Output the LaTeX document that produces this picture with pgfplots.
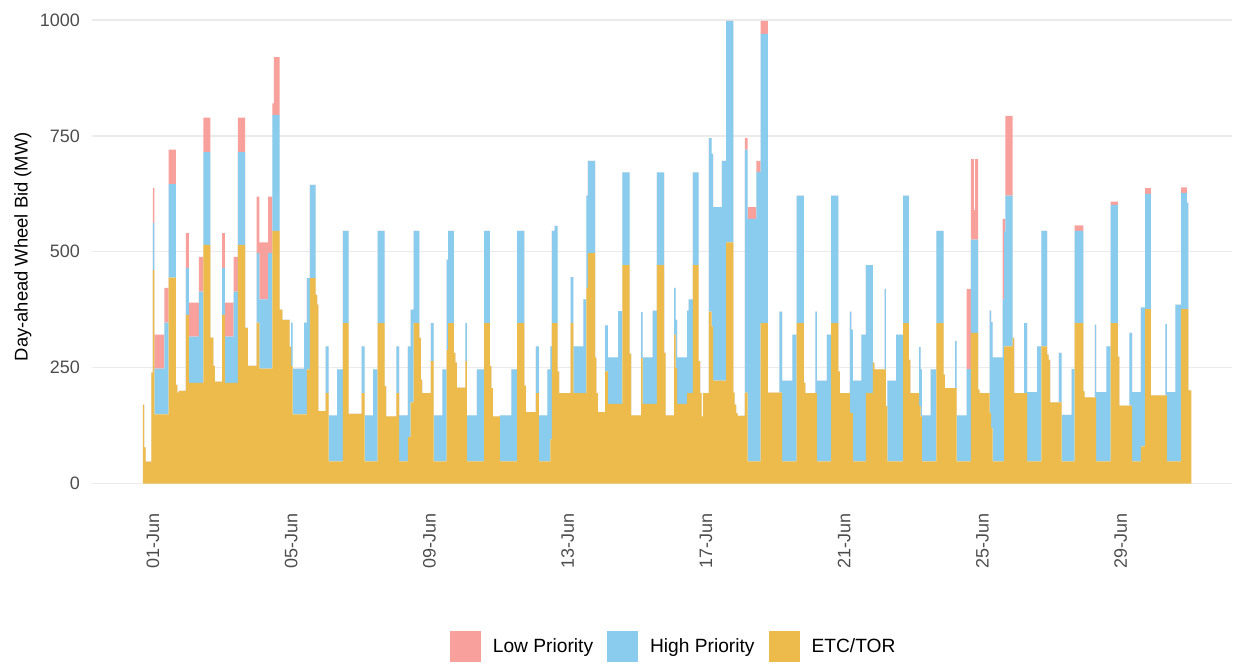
\documentclass[border=0pt]{standalone}
\usepackage{pgfplots}
\usepackage{pgfplotstable}
\pgfplotsset{compat=1.18}
\usepackage{fontspec}
\setmainfont{Liberation Sans}
\definecolor{lpc}{HTML}{F8A19C}
\definecolor{hpc}{HTML}{89CCEE}
\definecolor{etcc}{HTML}{EDBB4B}
\definecolor{tickgray}{HTML}{4D4D4D}
\definecolor{gridgray}{HTML}{EBEBEB}

% x = hour from 01-Jun 00:00, etc = ETC/TOR, hp = High Priority, lp = Low Priority (MW)
\pgfplotstableread{
x etc hp lp
-7 170 0 0
-6 78 0 0
-5 47 0 0
-1 239 0 0
0 461 101 76
1 149 99 73
8 149 198 75
11 444 202 74
16 213 0 0
17 196 0 0
18 200 0 0
23 364 101 75
25 217 100 73
32 217 197 75
35 515 200 74
40 315 0 0
42 254 0 0
43 220 0 0
48 364 101 75
50 217 100 73
56 217 197 75
59 515 200 74
64 336 0 0
66 254 0 0
72 347 150 122
74 248 149 123
80 248 249 122
83 545 250 25
84 545 250 125
88 375 0 0
90 353 0 0
95 295 0 0
96 254 93 0
97 149 99 0
105 149 198 0
107 246 197 0
109 443 201 0
113 407 0 0
114 386 0 0
115 156 0 0
120 195 101 0
122 48 99 0
128 48 198 0
132 346 199 0
136 150 0 0
145 195 101 0
147 48 99 0
153 48 198 0
156 346 199 0
161 210 0 0
162 145 0 0
169 195 101 0
171 48 99 0
177 100 196 0
179 175 200 0
181 346 199 0
185 314 0 0
186 224 0 0
187 195 0 0
193 264 82 0
195 48 99 0
201 48 198 0
204 288 195 0
205 346 199 0
209 282 0 0
210 261 0 0
211 207 0 0
217 264 82 0
218 48 99 0
225 48 198 0
230 346 199 0
234 253 0 0
235 206 0 0
236 145 0 0
241 48 99 0
249 48 198 0
253 346 199 0
258 211 0 0
259 154 0 0
266 195 101 0
268 48 99 0
274 48 198 0
276 95 201 0
277 346 199 0
279 346 210 0
281 242 0 0
282 195 0 0
290 346 99 0
292 195 101 0
299 195 202 0
301 422 199 0
302 497 199 0
307 271 0 0
308 195 0 0
309 154 0 0
314 242 99 0
316 172 100 0
323 172 200 0
326 471 200 0
331 280 0 0
332 147 0 0
339 271 99 0
340 172 100 0
347 172 201 0
350 471 200 0
355 282 0 0
356 147 0 0
362 321 101 0
363 249 104 0
364 172 100 0
371 195 178 0
372 195 202 0
375 471 200 0
379 264 0 0
380 195 0 0
381 145 0 0
382 195 0 0
386 371 374 0
388 339 372 0
389 222 374 0
395 222 474 0
398 520 478 0
403 196 0 0
404 170 0 0
405 152 0 0
406 146 0 0
411 196 524 25
413 48 523 25
419 48 624 24
422 346 624 28
427 196 0 0
435 196 175 0
437 48 174 0
444 48 273 0
447 346 275 0
452 217 0 0
453 195 0 0
460 195 176 0
461 48 174 0
468 48 273 0
471 346 275 0
476 242 0 0
477 195 0 0
484 152 219 0
485 152 180 0
486 48 174 0
492 48 273 0
495 195 276 0
500 261 0 0
501 246 0 0
508 246 174 0
509 167 0 0
510 48 174 0
516 48 273 0
521 346 275 0
525 267 0 0
526 195 0 0
532 167 127 0
533 145 101 0
534 48 99 0
540 48 198 0
544 346 199 0
549 235 0 0
550 206 0 0
557 206 101 0
558 48 99 0
565 48 199 173
568 325 201 174
570 325 201 64
571 325 201 174
573 202 0 0
574 195 0 0
581 152 221 0
582 120 228 0
583 48 224 0
590 48 349 174
591 296 248 27
592 296 325 172
597 314 0 0
598 195 0 0
605 195 151 0
607 48 149 0
614 48 248 0
617 296 249 0
621 278 0 0
622 267 0 0
623 175 0 0
629 175 107 0
631 48 100 0
638 48 199 0
640 346 199 12
646 199 0 0
647 186 0 0
654 186 157 0
655 48 149 0
662 48 248 0
665 346 255 7
670 274 0 0
671 168 0 0
678 168 157 0
680 48 149 0
686 80 300 0
689 376 249 12
693 190 0 0
703 190 154 0
704 48 149 0
710 48 338 0
714 376 251 12
718 376 230 0
719 201 0 0
721 201 0 0
}\bidtable

\begin{document}
\begin{tikzpicture}
\begin{axis}[
  scale only axis,
  width=570.5pt, height=253.5pt,
  xmin=-42.3, xmax=749.5,
  ymin=-50, ymax=1043,
  stack plots=y,
  axis line style={draw=none},
  tick style={draw=none},
  ymajorgrids,
  grid style={color=gridgray, line width=0.7pt},
  ytick={0,250,500,750,1000},
  xtick={0,96,192,288,384,480,576,672},
  xticklabels={01-Jun,05-Jun,09-Jun,13-Jun,17-Jun,21-Jun,25-Jun,29-Jun},
  /pgf/number format/assume math mode=true,
  /pgf/number format/1000 sep={},
  tick label style={font=\fontsize{9}{10}\selectfont, text=tickgray},
  yticklabel style={xshift=-2.5pt},
  xticklabel style={rotate=90, anchor=east},
  every axis y label/.style={at={(axis description cs:-0.0605,0.513)}, rotate=90, anchor=center, font=\fontsize{9.2}{11}\selectfont},
  ylabel={Day-ahead Wheel Bid (MW)},
  legend image code/.code={\fill[#1] (0pt,-7.5pt) rectangle (15.5pt,8pt);},
  legend style={at={(axis description cs:0.511,-0.276)}, anchor=center, draw=none, fill=none,
    font=\fontsize{9.6}{11}\selectfont, legend columns=3,
    /tikz/every odd column/.style={column sep=4pt},
    /tikz/every even column/.style={column sep=5pt}},
]
\addplot[fill=etcc, draw=none, const plot, forget plot] table[x=x, y=etc]{\bidtable} \closedcycle;
\addplot[fill=hpc, draw=none, const plot, forget plot] table[x=x, y=hp]{\bidtable} \closedcycle;
\addplot[fill=lpc, draw=none, const plot, forget plot] table[x=x, y=lp]{\bidtable} \closedcycle;
\addlegendimage{fill=lpc, draw=none}
\addlegendentry{Low Priority}
\addlegendimage{fill=hpc, draw=none}
\addlegendentry{High Priority}
\addlegendimage{fill=etcc, draw=none}
\addlegendentry{ETC/TOR}
\end{axis}
\path (current axis.south west) ++(-46pt,-77pt) coordinate (bl);
\path (bl) rectangle (current axis.north east);
\end{tikzpicture}
\end{document}
